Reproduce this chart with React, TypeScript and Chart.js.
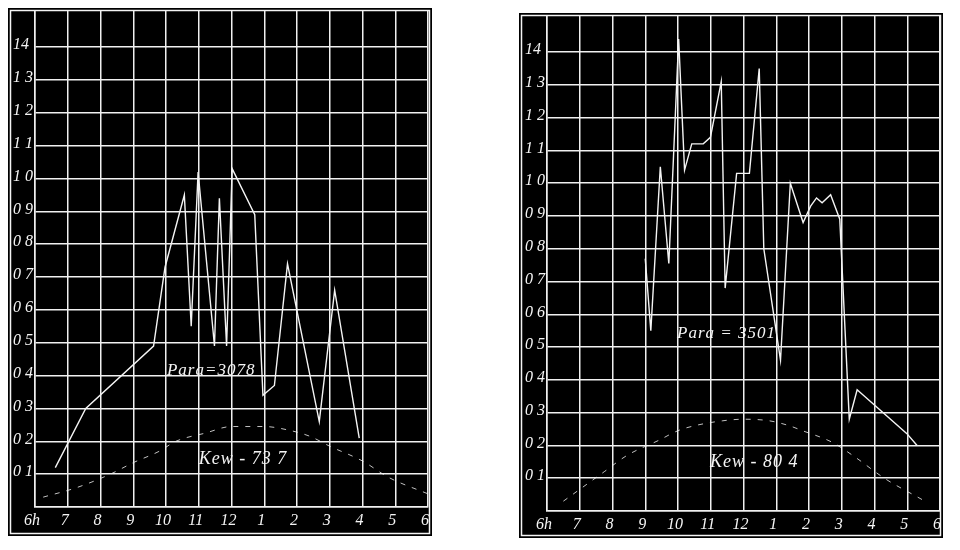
import React, { useEffect, useRef } from 'react';
import { Chart, registerables } from 'chart.js';

Chart.register(...registerables);

// ---- tick labels ----
const hourLabels = ['6h', '7', '8', '9', '10', '11', '12', '1', '2', '3', '4', '5', '6'];
const valueLabels = ['', '0 1', '0 2', '0 3', '0 4', '0 5', '0 6', '0 7', '0 8', '0 9', '1 0', '1 1', '1 2', '1 3', '14', ''];
const valueMax = 1.51;

// ---- left chart (Para = 30.78, Kew = 73.7) ----
const leftParaHours = [6.62, 7.55, 9.62, 9.97, 10.56, 10.77, 10.98, 11.48, 11.63, 11.85, 12.02, 12.71, 12.96, 13.31, 13.71, 14.68, 15.15, 15.9];
const leftParaValues = [0.12, 0.30, 0.49, 0.73, 0.95, 0.55, 1.02, 0.49, 0.94, 0.49, 1.03, 0.89, 0.34, 0.37, 0.74, 0.26, 0.66, 0.21];
const leftKewHours = [6.25, 7.3, 8.3, 9.0, 9.8, 10.3, 11.2, 12.0, 13.0, 13.7, 14.4, 15.0, 16.0, 16.8, 18.0];
const leftKewValues = [0.03, 0.06, 0.10, 0.135, 0.17, 0.20, 0.225, 0.245, 0.245, 0.235, 0.215, 0.185, 0.14, 0.09, 0.04];
const leftNotes = [
  { text: 'Para=3078', x: 10.03, y: 0.415, size: 17 },
  { text: 'Kew - 73 7', x: 11.0, y: 0.145, size: 18 },
];

// ---- right chart (Para = 35.01, Kew = 80.4) ----
const rightParaHours = [9.0, 9.17, 9.46, 9.72, 10.02, 10.2, 10.42, 10.77, 10.99, 11.32, 11.44, 11.79, 12.18, 12.48, 12.62, 13.13, 13.43, 13.82, 14.05, 14.23, 14.4, 14.66, 14.94, 15.23, 15.47, 16.99, 17.3];
const rightParaValues = [0.77, 0.55, 1.05, 0.755, 1.44, 1.04, 1.12, 1.12, 1.14, 1.31, 0.68, 1.03, 1.03, 1.35, 0.80, 0.46, 1.0, 0.88, 0.93, 0.955, 0.94, 0.965, 0.89, 0.28, 0.37, 0.236, 0.20];
const rightKewHours = [6.5, 7.75, 8.45, 9.4, 10.0, 10.5, 11.35, 12.0, 12.8, 13.4, 13.8, 14.7, 15.4, 16.3, 17.45];
const rightKewValues = [0.03, 0.12, 0.17, 0.215, 0.245, 0.26, 0.275, 0.28, 0.275, 0.26, 0.245, 0.21, 0.165, 0.10, 0.035];
const rightNotes = [
  { text: 'Para = 3501', x: 9.97, y: 0.54, size: 17 },
  { text: 'Kew - 80 4', x: 10.98, y: 0.148, size: 18 },
];

const FONT = "'Liberation Serif', 'DejaVu Serif', serif";

type Note = { text: string; x: number; y: number; size: number };

function makeConfig(
  paraH: number[], paraV: number[], kewH: number[], kewV: number[], notes: Note[],
  pad: { left: number; right: number; top: number; bottom: number }, yWidth: number, xHeight: number
): any {
  const panelPlugin = {
    id: 'panel',
    beforeDraw(chart: any) {
      const { ctx, width, height } = chart;
      ctx.save();
      ctx.fillStyle = '#000';
      ctx.fillRect(0, 0, width, height);
      ctx.strokeStyle = '#f4f4f4';
      ctx.lineWidth = 1.5;
      ctx.strokeRect(2.5, 2.5, width - 5, height - 5);
      ctx.restore();
    },
    afterDatasetsDraw(chart: any) {
      const { ctx, scales } = chart;
      ctx.save();
      ctx.fillStyle = '#f4f4f4';
      ctx.textAlign = 'left';
      ctx.textBaseline = 'middle';
      for (const n of notes) {
        ctx.font = `italic ${n.size}px ${FONT}`;
        try { (ctx as any).letterSpacing = '1px'; } catch (e) {}
        ctx.fillText(n.text, scales.x.getPixelForValue(n.x), scales.y.getPixelForValue(n.y));
      }
      ctx.restore();
    },
  };

  return {
    type: 'line',
    data: {
      datasets: [
        {
          label: 'Para',
          data: paraH.map((h, i) => ({ x: h, y: paraV[i] })),
          borderColor: '#f4f4f4',
          borderWidth: 1.4,
          pointRadius: 0,
          tension: 0,
          fill: false,
        },
        {
          label: 'Kew',
          data: kewH.map((h, i) => ({ x: h, y: kewV[i] })),
          borderColor: 'rgba(240,240,240,0.8)',
          borderWidth: 1,
          borderDash: [5, 7],
          pointRadius: 0,
          tension: 0.4,
          cubicInterpolationMode: 'monotone',
          fill: false,
        },
      ],
    },
    options: {
      animation: false,
      responsive: false,
      events: [],
      layout: { padding: pad },
      plugins: { legend: { display: false }, tooltip: { enabled: false } },
      scales: {
        x: {
          type: 'linear',
          min: 6,
          max: 18,
          afterFit(scale: any) {
            scale.height = xHeight;
            scale.paddingLeft = 0;
            scale.paddingRight = 0;
          },
          ticks: {
            stepSize: 1,
            autoSkip: false,
            maxRotation: 0,
            padding: 4,
            labelOffset: -3,
            color: '#f4f4f4',
            font: { family: FONT, style: 'italic', size: 16 },
            callback: (v: number) => hourLabels[Math.round(v) - 6] ?? '',
          },
          grid: { color: '#f0f0f0', lineWidth: 1.5, drawTicks: false },
          border: { display: true, color: '#f0f0f0', width: 1.5 },
        },
        y: {
          type: 'linear',
          min: 0,
          max: valueMax,
          afterFit(scale: any) {
            scale.width = yWidth;
            scale.paddingTop = 0;
            scale.paddingBottom = 0;
          },
          ticks: {
            stepSize: 0.1,
            autoSkip: false,
            crossAlign: 'far',
            padding: 2,
            labelOffset: -2,
            color: '#f4f4f4',
            font: { family: FONT, style: 'italic', size: 16 },
            callback: (v: number) => valueLabels[Math.round(v * 10)] ?? '',
          },
          grid: {
            color: (c: any) => (Math.round((c.tick?.value ?? 0) * 10) >= 15 ? 'rgba(0,0,0,0)' : '#f0f0f0'),
            lineWidth: 1.5,
            drawTicks: false,
          },
          border: { display: true, color: '#f0f0f0', width: 1.5 },
        },
      },
    },
    plugins: [panelPlugin],
  };
}

function Panel(props: { left: number; top: number; width: number; height: number; config: any }) {
  const ref = useRef<HTMLCanvasElement | null>(null);
  useEffect(() => {
    if (!ref.current) return;
    const chart = new Chart(ref.current, props.config);
    return () => chart.destroy();
  }, []);
  return (
    <canvas
      ref={ref}
      width={props.width}
      height={props.height}
      style={{ position: 'absolute', left: props.left, top: props.top, width: props.width, height: props.height }}
    />
  );
}

export default function App() {
  const leftCfg = makeConfig(leftParaHours, leftParaValues, leftKewHours, leftKewValues, leftNotes,
    { left: 5, right: 4, top: 3, bottom: 0 }, 22, 29);
  const rightCfg = makeConfig(rightParaHours, rightParaValues, rightKewHours, rightKewValues, rightNotes,
    { left: 6, right: 3, top: 3, bottom: 0 }, 22, 27);
  return (
    <div style={{ position: 'fixed', left: 0, top: 0, width: 960, height: 550, background: '#fff', overflow: 'hidden' }}>
      <Panel left={8} top={8} width={424} height={528} config={leftCfg} />
      <Panel left={519} top={13} width={424} height={525} config={rightCfg} />
    </div>
  );
}
